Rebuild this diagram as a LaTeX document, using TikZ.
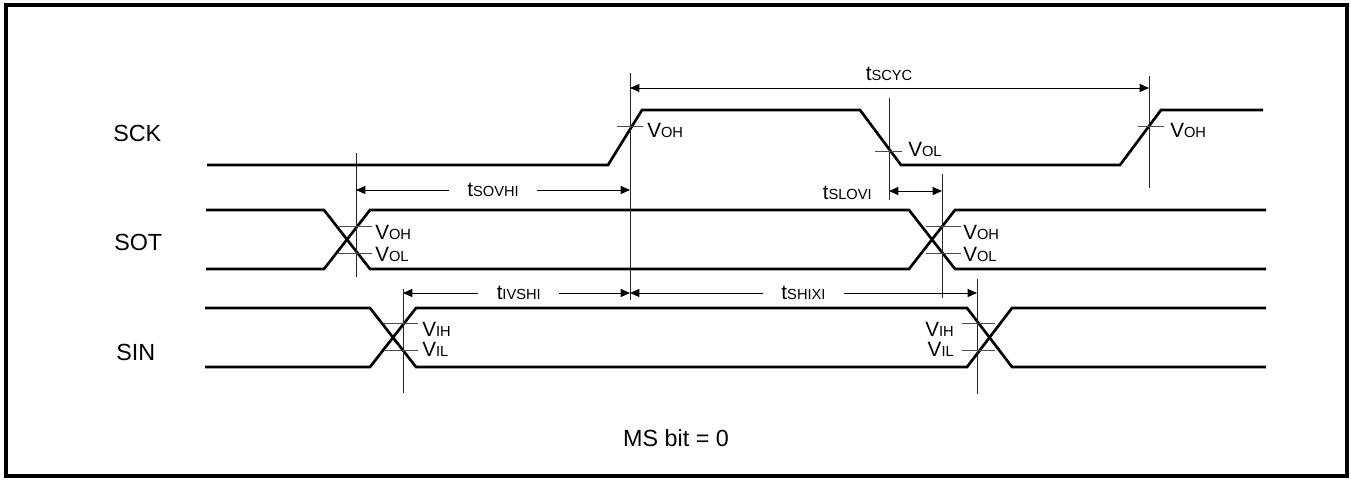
\documentclass[tikz,border=0pt]{standalone}
\usepackage{fontspec}
\setmainfont{Liberation Sans}
\usetikzlibrary{arrows.meta}
\newcommand{\lvsub}[2]{#1{\fontsize{11}{12}\selectfont #2}}

\begin{document}
\begin{tikzpicture}[x=0.75pt,y=0.75pt,yscale=-1,xscale=1,
  wave/.style={line width=2pt,line join=miter},
  marker/.style={line width=0.75pt,black!85},
  lvltick/.style={line width=0.75pt,black!70},
  dim/.style={line width=0.75pt,{Triangle[length=7pt,width=6pt]}-{Triangle[length=7pt,width=6pt]}},
  signame/.style={font=\fontsize{17.5}{20}\selectfont,inner sep=0pt,anchor=west},
  lvl/.style={font=\fontsize{15.5}{17}\selectfont,inner sep=0pt},
  gaplbl/.style={lvl,fill=white,inner xsep=14pt,inner ysep=1pt}
]
\useasboundingbox (0,0) rectangle (1351,479);

%Frame
\draw [line width=2.5pt] (6,5) rectangle (1347,476);

%Waveforms SCK
\draw [wave] (207,165) -- (608,165) -- (642,110) -- (860,110) -- (901,165) -- (1120,165) -- (1161,110) -- (1263,110);
%Waveforms SOT
\draw [wave] (206,210) -- (324,210) -- (370,269) -- (909,269) -- (955,210) -- (1266,210);
\draw [wave] (206,269) -- (324,269) -- (370,210) -- (909,210) -- (955,269) -- (1266,269);
%Waveforms SIN
\draw [wave] (205,308) -- (370,308) -- (416,367) -- (967,367) -- (1012,308) -- (1266,308);
\draw [wave] (205,367) -- (370,367) -- (416,308) -- (967,308) -- (1012,367) -- (1266,367);

%Straight Lines (timing markers)
\coordinate (mSckH1) at (630,73);   \coordinate (mSckH1b) at (630,300);
\coordinate (mSckL) at (889,98);    \coordinate (mSckLb) at (889,200);
\coordinate (mSckH2) at (1149,76);  \coordinate (mSckH2b) at (1149,188);
\coordinate (mSot1) at (356,153);   \coordinate (mSot1b) at (356,277);
\coordinate (mSot2) at (942,174);   \coordinate (mSot2b) at (942,298);
\coordinate (mSin1) at (403,289);   \coordinate (mSin1b) at (403,393);
\coordinate (mSin2) at (977,279);   \coordinate (mSin2b) at (977,394);
\foreach \m in {mSckH1,mSckL,mSckH2,mSot1,mSot2,mSin1,mSin2}
  \draw [marker] (\m) -- (\m b);

%Straight Lines (level ticks)
\draw [lvltick] (617,126) -- (643,126);
\draw [lvltick] (875,151) -- (902,151);
\draw [lvltick] (1138,126) -- (1164,126);
\draw [lvltick] (337,226) -- (372,226);
\draw [lvltick] (337,253) -- (372,253);
\draw [lvltick] (926,226) -- (961,226);
\draw [lvltick] (926,253) -- (961,253);
\draw [lvltick] (384,323) -- (418,323);
\draw [lvltick] (384,350) -- (418,350);
\draw [lvltick] (962,323) -- (995,323);
\draw [lvltick] (962,350) -- (995,350);

%Dimension arrows
\draw [dim] (mSckH1 |- 0,88) -- (mSckH2 |- 0,88);
\draw [dim] (mSot1 |- 0,190) -- node[gaplbl] (tsovhi) {\lvsub{t}{SOVHI}} (mSckH1 |- 0,190);
\draw [dim] (mSckL |- 0,191) -- (mSot2 |- 0,191);
\draw [dim] (mSin1 |- 0,293) -- node[gaplbl,pos=0.51] (tivshi) {\lvsub{t}{IVSHI}} (mSckH1 |- 0,293);
\draw [dim] (mSckH1 |- 0,293) -- node[gaplbl,pos=0.5] (tshixi) {\lvsub{t}{SHIXI}} (mSin2 |- 0,293);

% Text Node
\node [lvl] (tscyc) at (889,74) {\lvsub{t}{SCYC}};
\node [lvl,anchor=east] (tslovi) at (872,193) {\lvsub{t}{SLOVI}};

% Text Node
\node [signame] (sck) at (113,133) {SCK};
\node [signame] (sot) at (114,242) {SOT};
\node [signame] (sin) at (116,352) {SIN};

% Text Node
\node [lvl,anchor=west] (sckvoh1) at (647,130) {\lvsub{V}{OH}};
\node [lvl,anchor=west] (sckvol) at (908,149) {\lvsub{V}{OL}};
\node [lvl,anchor=west] (sckvoh2) at (1170,130) {\lvsub{V}{OH}};
\node [lvl,anchor=west] (sotvoh1) at (375,232) {\lvsub{V}{OH}};
\node [lvl,anchor=west] (sotvol1) at (375,254) {\lvsub{V}{OL}};
\node [lvl,anchor=west] (sotvoh2) at (963,232) {\lvsub{V}{OH}};
\node [lvl,anchor=west] (sotvol2) at (963,254) {\lvsub{V}{OL}};
\node [lvl,anchor=west] (sinvih1) at (422,329) {\lvsub{V}{IH}};
\node [lvl,anchor=west] (sinvil1) at (422,349) {\lvsub{V}{IL}};
\node [lvl,anchor=east] (sinvih2) at (954,329) {\lvsub{V}{IH}};
\node [lvl,anchor=east] (sinvil2) at (954,349) {\lvsub{V}{IL}};

% Text Node
\node [signame,anchor=center] (msbit) at (676,438) {MS bit = 0};

\end{tikzpicture}
\end{document}
